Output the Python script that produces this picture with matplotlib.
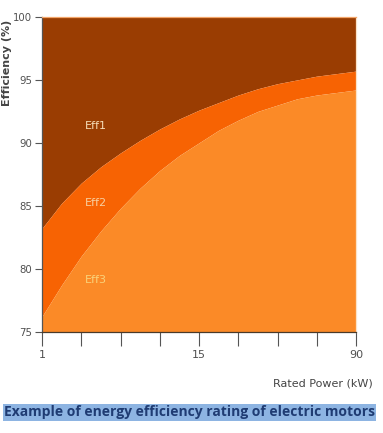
import numpy as np
import matplotlib.pyplot as plt

# positions along the rated-power axis (equally spaced ticks, read at half-tick steps)
power_pos = [0, 0.5, 1, 1.5, 2, 2.5, 3, 3.5, 4, 4.5, 5, 5.5, 6, 6.5, 7, 7.5, 8]
# boundary between Eff1 and Eff2 (%)
eff1_lower = [83.2, 85.2, 86.8, 88.1, 89.2, 90.2, 91.1, 91.9, 92.6, 93.2,
              93.8, 94.3, 94.7, 95.0, 95.3, 95.5, 95.7]
# boundary between Eff2 and Eff3 (%)
eff2_lower = [76.2, 78.7, 81.0, 83.0, 84.8, 86.4, 87.8, 89.0, 90.0, 91.0,
              91.8, 92.5, 93.0, 93.5, 93.8, 94.0, 94.2]

x_ticks = [0, 1, 2, 3, 4, 5, 6, 7, 8]
x_tick_labels = ["1", "", "", "", "15", "", "", "", "90"]
y_ticks = [75, 80, 85, 90, 95, 100]
class_names = ["Eff1", "Eff2", "Eff3"]
class_label_y = [91.3, 85.2, 79.1]

colors = ["#9A3D02", "#F76303", "#FB8A27"]
label_colors = ["#F6DDB8", "#F8CFA0", "#F9D27A"]
tick_font = ["Liberation Sans Narrow", "DejaVu Sans"]

fig = plt.figure(figsize=(3.83, 4.33), dpi=100)
ax = fig.add_axes([0.1097, 0.2344, 0.8198, 0.7263])

x = np.array(power_pos)
ax.fill_between(x, eff1_lower, 100, color=colors[0], lw=0)
ax.fill_between(x, eff2_lower, eff1_lower, color=colors[1], lw=0)
ax.fill_between(x, 75, eff2_lower, color=colors[2], lw=0)

for name, ly, lc in zip(class_names, class_label_y, label_colors):
    ax.text(1.38, ly, name, color=lc, fontsize=8, family=tick_font,
            ha="center", va="center")

ax.set_xlim(0, 8)
ax.set_ylim(75, 100)
ax.set_xticks(x_ticks)
ax.set_xticklabels(x_tick_labels, family=tick_font, fontsize=8, color="#505050")
ax.set_yticks(y_ticks)
ax.set_yticklabels([str(v) for v in y_ticks], family=tick_font, fontsize=7.3,
                   color="#505050")
ax.tick_params(axis="x", length=10, width=0.8, color="#555555", pad=3)
ax.tick_params(axis="y", length=5, width=0.8, color="#555555", pad=2)

ax.spines["left"].set_color("#555555")
ax.spines["bottom"].set_color("#4a3a2a")
ax.spines["top"].set_color("#F3A66A")
ax.spines["right"].set_color("#FBE3C8")
for s in ax.spines.values():
    s.set_linewidth(0.9)

fig.text(0.019, 0.855, "Efficiency (%)", rotation=90, ha="center", va="center",
         fontsize=8, fontweight="bold", color="#444444")
fig.text(0.973, 0.115, "Rated Power (kW)", ha="right", va="center",
         family=tick_font, fontsize=8, color="#444444")

fig.text(0.495, 0.048, "Example of energy efficiency rating of electric motors",
         ha="center", va="center", fontsize=10, fontweight="bold",
         family=["Open Sans", "DejaVu Sans"], color="#1F3C73",
         bbox=dict(boxstyle="square,pad=0.1", facecolor="#8DB4E2",
                   edgecolor="none"))

fig.savefig("out.png", dpi=100)
